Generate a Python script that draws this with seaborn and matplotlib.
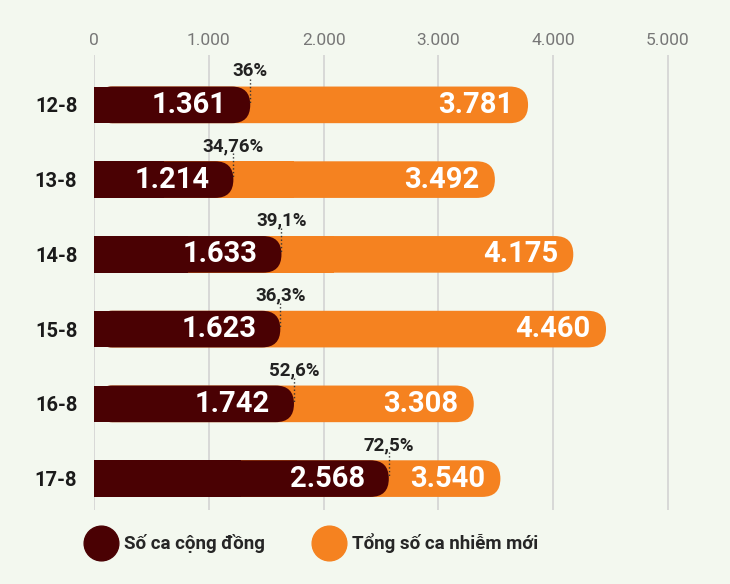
import seaborn as sns
import pandas as pd
from matplotlib import pyplot as plt
from matplotlib.patches import FancyBboxPatch, Rectangle
from matplotlib.lines import Line2D

dates = ['12-8', '13-8', '14-8', '15-8', '16-8', '17-8']
community = [1361, 1214, 1633, 1623, 1742, 2568]
total = [3781, 3492, 4175, 4460, 3308, 3540]
pct_labels = ['36%', '34,76%', '39,1%', '36,3%', '52,6%', '72,5%']
xticks = [0, 1000, 2000, 3000, 4000, 5000]
legend_labels = ['Số ca cộng đồng', 'Tổng số ca nhiễm mới']

bg = '#f3f8ef'
dark = '#4a0103'
orange = '#f58220'

sns.set_style('whitegrid', {'axes.facecolor': bg, 'grid.color': '#d3d3d3'})
plt.rcParams['font.family'] = ['Roboto', 'DejaVu Sans']

d = pd.DataFrame({'date': dates, 'community': community, 'total': total})

fig = plt.figure(figsize=(7.3, 5.84), dpi=100, facecolor=bg)
ax = fig.add_axes([94 / 730, 1 - 510 / 584, (5300 * 0.1148) / 730, 455 / 584])

sns.barplot(data=d, x='total', y='date', color=orange, saturation=1, width=0.49, ax=ax)
sns.barplot(data=d, x='community', y='date', color=dark, saturation=1, width=0.49, ax=ax)

ax.set_xlim(0, 5300)
ax.set_ylim(5.42, -0.667)
ax.set_xlabel('')
ax.set_ylabel('')
ax.set_axisbelow(True)
ax.grid(axis='y', visible=False)
ax.grid(axis='x', visible=True, lw=1.2)
for s in ax.spines.values():
    s.set_visible(False)

ax.xaxis.tick_top()
ax.set_xticks(xticks)
ax.set_xticklabels([f'{t:,}'.replace(',', '.') for t in xticks], color='#777777', fontsize=12.5)
ax.tick_params(axis='x', length=0, pad=5)
ax.tick_params(axis='y', length=0, pad=12)
for lab in ax.get_yticklabels():
    lab.set_fontsize(14.5)
    lab.set_fontweight('bold')
    lab.set_color('#1a1a1a')

# rounded right ends for the bars
bb = ax.get_window_extent()
px_x = bb.width / 5300
px_y = bb.height / (5.42 + 0.667)
aspect = px_x / px_y
patches = list(ax.patches)
for i, p in enumerate(patches):
    x, y, w, h = p.get_x(), p.get_y(), p.get_width(), p.get_height()
    col = p.get_facecolor()
    z = 2 if i < len(dates) else 3
    p.remove()
    r = (h / 2) * px_y / px_x
    ax.add_patch(FancyBboxPatch((x, y), w, h, boxstyle=f'round,pad=0,rounding_size={r}',
                                mutation_aspect=aspect, fc=col, ec='none', zorder=z))
    ax.add_patch(Rectangle((x, y), w / 2, h, fc=col, ec='none', zorder=z))

for i in range(len(dates)):
    c, t = community[i], total[i]
    ax.annotate(f'{c:,}'.replace(',', '.'), (c, i), xytext=(-17, 0), textcoords='offset points',
                ha='right', va='center', color='white', fontsize=21, fontweight='bold', zorder=6)
    ax.annotate(f'{t:,}'.replace(',', '.'), (t, i), xytext=(-11, 0), textcoords='offset points',
                ha='right', va='center', color='white', fontsize=21, fontweight='bold', zorder=6)
    ax.text(c, i - 0.45, pct_labels[i], ha='center', va='center', fontsize=13.5,
            fontweight='semibold', color='#222222', zorder=6)
    ax.plot([c, c], [i - 0.35, i - 0.03], ls=':', lw=1, color='#333333', zorder=5)

handles = [Line2D([], [], marker='o', ls='', markersize=25, color=dark),
           Line2D([], [], marker='o', ls='', markersize=25, color=orange)]
fig.legend(handles, legend_labels, loc='center left', bbox_to_anchor=(0.097, 0.07), ncol=2,
           frameon=False, handlelength=1.4, handletextpad=0.55, columnspacing=2.7,
           prop={'size': 13.5, 'weight': 'bold'})

plt.savefig('out.png', dpi=100, facecolor=bg)
